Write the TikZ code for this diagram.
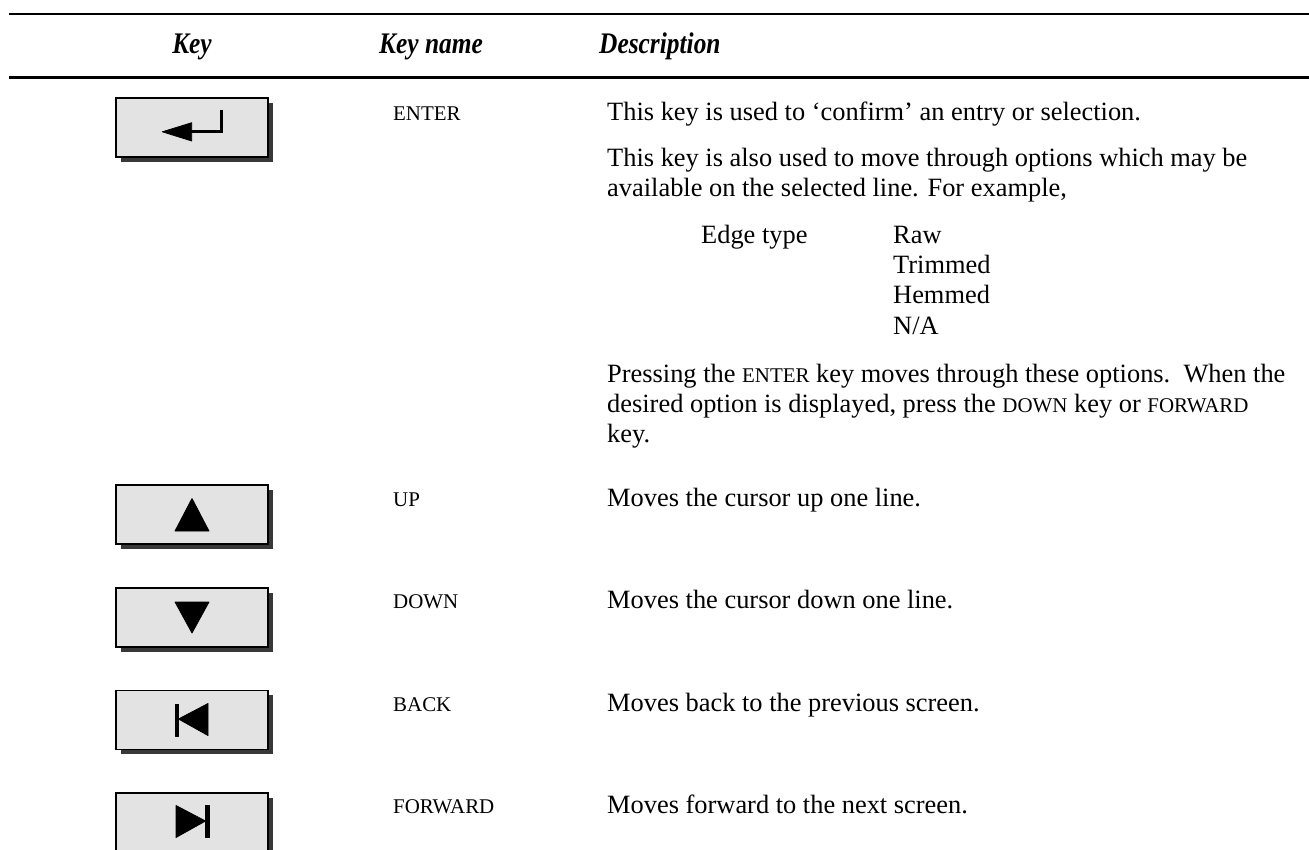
\documentclass[tikz,border=0pt]{standalone}
\usepackage{fontspec}
\setmainfont{Liberation Serif}
\newfontfamily\hdrfont[FakeStretch=0.85]{Liberation Serif}
\usetikzlibrary{calc}
\newcommand\kname[1]{{\fontsize{21}{21}\selectfont #1}}
\tikzset{
  rulel/.style={line width=2.6bp},
  hdr/.style={font=\hdrfont\fontsize{30}{34}\selectfont\bfseries\itshape, inner sep=0pt, anchor=base},
  body/.style={font=\fontsize{26.5}{30.4}\selectfont, inner sep=0pt, anchor=base west},
  knm/.style={font=\fontsize{21}{21}\selectfont, inner sep=0pt, anchor=base west},
  keybtn/.style={rectangle, draw=black, line width=1.4bp, fill=black!11, minimum width=152bp, minimum height=59bp, inner sep=0pt},
  shad/.style={fill=black!78},
  sym/.style={fill=black, draw=black, line join=round, line width=0.8bp}
}
\begin{document}
\begin{tikzpicture}[x=1bp,y=-1bp]
\useasboundingbox (0,0) rectangle (1309,849);
\fill[white] (0,0) rectangle (1309,849);
% rules
\coordinate (r1a) at (9,14); \coordinate (r1b) at (1309,14);
\coordinate (r2a) at (9,77.5); \coordinate (r2b) at (1309,77.5);
\draw[rulel] (r1a) -- (r1b);
\draw[rulel] (r2a) -- (r2b);
% header
\node[hdr] (hkey) at (192,53) {Key};
\node[hdr, anchor=base west] (hname) at (379,53) {Key name};
\node[hdr, anchor=base west] (hdesc) at (599,53) {Description};

% buttons (shadow first)
\foreach \nm/\cy in {enter/127.5, up/514.5, down/617.5, back/720, fwd/822.5}{
  \fill[shad] (192-76+4.5,\cy-29.5+4.5) rectangle (192+76+4.5,\cy+29.5+4.5);
  \node[keybtn] (b\nm) at (192,\cy) {};
}
% enter symbol
\fill[sym] ($(benter.center)+(-29.7,4.3)$) -- ($(benter.center)+(-0.3,-4.8)$) -- ($(benter.center)+(-0.3,13.5)$) -- cycle;
\draw[line width=3bp] ($(benter.center)+(-1,4.3)$) -- ($(benter.center)+(29.7,4.3)$) -- ($(benter.center)+(29.7,-17.5)$);
% up
\fill[sym] ($(bup.center)+(0,-16)$) -- ($(bup.center)+(-17,16.5)$) -- ($(bup.center)+(17,16.5)$) -- cycle;
% down
\fill[sym] ($(bdown.center)+(0,15.5)$) -- ($(bdown.center)+(-17,-15.5)$) -- ($(bdown.center)+(17,-15.5)$) -- cycle;
% back
\fill[sym] ($(bback.center)+(-17,-16)$) rectangle ($(bback.center)+(-13.5,16)$);
\fill[sym] ($(bback.center)+(-13.5,-1)$) -- ($(bback.center)+(16,-16.5)$) -- ($(bback.center)+(16,15.5)$) -- cycle;
% forward
\fill[sym] ($(bfwd.center)+(13.5,-17)$) rectangle ($(bfwd.center)+(17,15)$);
\fill[sym] ($(bfwd.center)+(13.5,-1.5)$) -- ($(bfwd.center)+(-16,-17)$) -- ($(bfwd.center)+(-16,15)$) -- cycle;

% key names
\node[knm] (nenter) at (393,120) {ENTER};
\node[knm] (nup) at (393,506) {UP};
\node[knm] (ndown) at (393,608) {DOWN};
\node[knm] (nback) at (393,711) {BACK};
\node[knm] (nfwd) at (393,813) {FORWARD};

% descriptions
\node[body] (d1) at (607,120) {This key is used to ‘confirm’ an entry or selection.};
\node[body] (d2a) at (607,166) {This key is also used to move through options which may be};
\node[body] (d2b) at (607,196.4) {available on the selected line. For example,};
\node[body] (etype) at (701,243) {Edge type};
\node[body] (eo1) at (893,243) {Raw};
\node[body] (eo2) at (893,273.4) {Trimmed};
\node[body] (eo3) at (893,303.8) {Hemmed};
\node[body] (eo4) at (893,334.2) {N/A};
\node[body] (d3a) at (607,382) {Pressing the \kname{ENTER} key moves through these options.\ \ When the};
\node[body] (d3b) at (607,412.4) {desired option is displayed, press the \kname{DOWN} key or \kname{FORWARD}};
\node[body] (d3c) at (607,442.8) {key.};
\node[body] (dup) at (607,506) {Moves the cursor up one line.};
\node[body] (ddown) at (607,608) {Moves the cursor down one line.};
\node[body] (dback) at (607,711) {Moves back to the previous screen.};
\node[body] (dfwd) at (607,813) {Moves forward to the next screen.};
\end{tikzpicture}
\end{document}
